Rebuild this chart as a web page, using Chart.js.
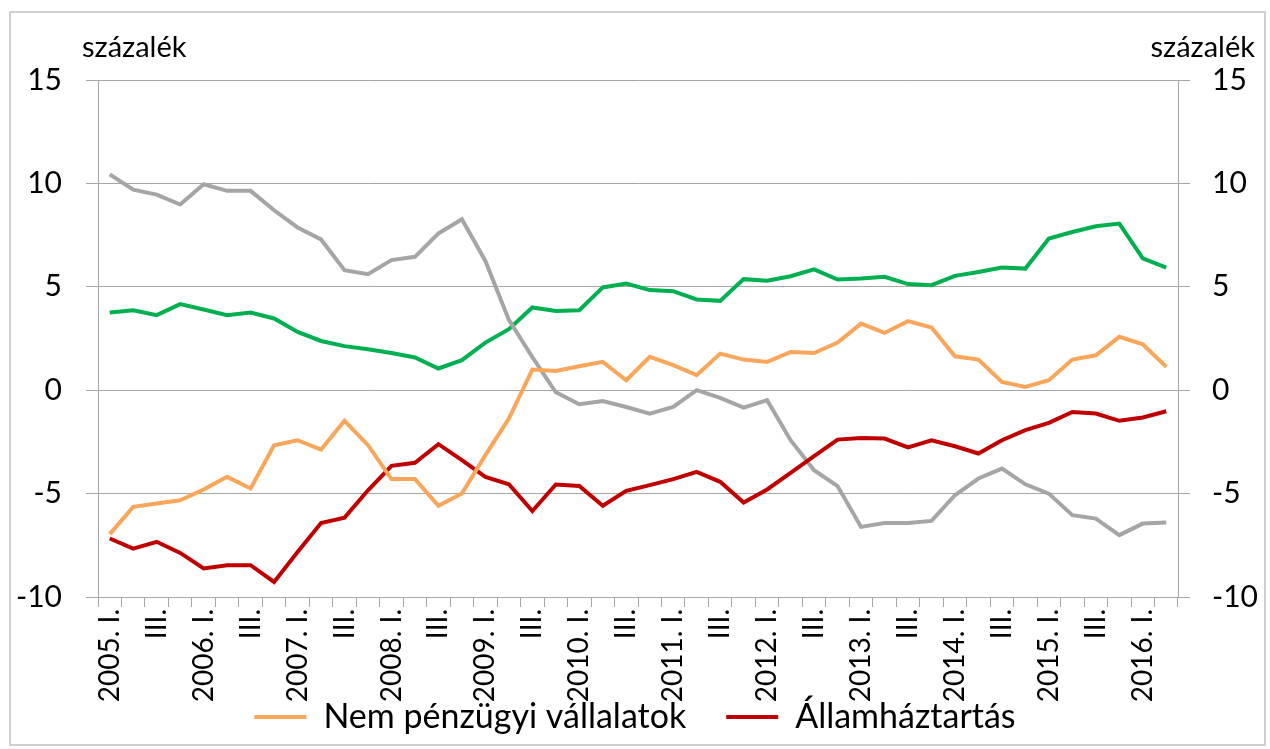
<!DOCTYPE html>
<html>
<head>
<meta charset="utf-8">
<script src="https://cdn.jsdelivr.net/npm/chart.js@4/dist/chart.umd.min.js"></script>
<style>
  html, body { margin: 0; padding: 0; background: #fff; }
  #wrap { position: relative; width: 1270px; height: 749px; }
  #frame {
    position: absolute; left: 9px; top: 11px;
    width: 1253px; height: 731px;
    border: 2px solid #cfcfcf;
    pointer-events: none;
  }
</style>
</head>
<body>
<div id="wrap">
  <canvas id="grafico" width="1270" height="749"></canvas>
  <div id="frame"></div>
</div>
<script>
// negyedéves adatok, 2005. I. - 2016. II.
const evek = [2005, 2006, 2007, 2008, 2009, 2010, 2011, 2012, 2013, 2014, 2015, 2016];
const negyedek = ["I.", "II.", "III.", "IV."];

const cimkek = [];
evek.forEach(ev => {
    negyedek.forEach((n, i) => {
        if (ev === 2016 && i > 1) return;
        cimkek.push(i === 0 ? ev + ". " + n : n);
    });
});

const nemPenzugyi = [
    -6.96, -5.64, -5.48, -5.32, -4.80, -4.19, -4.75, -2.66, -2.42, -2.87,
    -1.48, -2.66, -4.30, -4.30, -5.59, -5.00, -3.14, -1.37, 1.00, 0.93,
    1.16, 1.37, 0.48, 1.61, 1.21, 0.73, 1.77, 1.48, 1.37, 1.85,
    1.80, 2.30, 3.22, 2.77, 3.34, 3.03, 1.64, 1.48, 0.40, 0.16,
    0.48, 1.48, 1.69, 2.58, 2.22, 1.13
];

const allamhaztartas = [
    -7.17, -7.66, -7.33, -7.87, -8.62, -8.46, -8.46, -9.27, -7.82, -6.42,
    -6.16, -4.84, -3.66, -3.51, -2.61, -3.38, -4.19, -4.55, -5.84, -4.56,
    -4.63, -5.59, -4.87, -4.59, -4.30, -3.95, -4.43, -5.43, -4.80, -4.00,
    -3.19, -2.39, -2.31, -2.34, -2.77, -2.42, -2.71, -3.06, -2.42, -1.93,
    -1.58, -1.05, -1.13, -1.48, -1.32, -1.02
];

const szurke = [
    10.44, 9.70, 9.46, 8.98, 9.96, 9.64, 9.64, 8.70, 7.87, 7.29,
    5.80, 5.61, 6.29, 6.45, 7.58, 8.27, 6.25, 3.40, 1.60, -0.10,
    -0.68, -0.52, -0.81, -1.13, -0.81, 0.00, -0.37, -0.84, -0.48, -2.42,
    -3.87, -4.64, -6.61, -6.42, -6.42, -6.32, -5.08, -4.27, -3.79, -4.55,
    -5.00, -6.04, -6.21, -7.01, -6.45, -6.40
];

const zold = [
    3.76, 3.87, 3.63, 4.16, 3.90, 3.63, 3.76, 3.47, 2.82, 2.38,
    2.13, 1.98, 1.80, 1.58, 1.05, 1.45, 2.30, 2.95, 4.00, 3.83,
    3.87, 4.97, 5.16, 4.84, 4.79, 4.39, 4.32, 5.37, 5.29, 5.51,
    5.84, 5.35, 5.40, 5.48, 5.13, 5.08, 5.53, 5.72, 5.93, 5.88,
    7.33, 7.65, 7.93, 8.06, 6.37, 5.93
];

const yMin = -10;
const yMax = 15;
const yLepes = 5;

const betu = "Lato";
const racsSzin = "#a6a6a6";

function vonal(label, data, szin) {

    return {
        label,
        data,
        borderColor: szin,
        backgroundColor: szin,
        borderWidth: 4,
        pointRadius: 0,
        tension: 0,
        fill: false
    };
}

const szazalekFelirat = {

    id: "szazalekFelirat",

    // a vízszintes tengely feliratai lelógnak a tengely dobozáról,
    // ezért a vágási területét lejjebb visszük
    afterLayout(chart) {

        const x = chart.scales.x;

        x.bottom = x.top + 115;
    },

    afterDraw(chart) {

        const ctx = chart.ctx;
        const area = chart.chartArea;

        ctx.save();
        ctx.fillStyle = "#000";
        ctx.font = "29px " + betu;
        ctx.textBaseline = "alphabetic";

        ctx.textAlign = "left";
        ctx.fillText("százalék", area.left - 16, area.top - 23);

        ctx.textAlign = "right";
        ctx.fillText("százalék", area.right + 77, area.top - 23);

        ctx.restore();
    }
};

new Chart(
    document.getElementById("grafico"),
    {
        type: "line",

        data: {

            labels: cimkek,

            datasets: [
                vonal("Nem pénzügyi vállalatok", nemPenzugyi, "#f9a65a"),
                vonal("Államháztartás", allamhaztartas, "#c00000"),
                vonal("", szurke, "#a5a5a5"),
                vonal("", zold, "#00b050")
            ]
        },

        options: {

            responsive: false,

            animation: false,

            layout: {
                padding: { top: 80, left: 0, right: 0, bottom: 5 }
            },

            plugins: {

                legend: {

                    position: "bottom",

                    labels: {

                        color: "#000",

                        font: { family: betu, size: 34 },

                        boxWidth: 52,

                        boxHeight: 4,

                        padding: 40,

                        filter: item => item.text !== "",

                        generateLabels: chart =>
                            Chart.defaults.plugins.legend.labels
                                .generateLabels(chart)
                                .map(item => ({
                                    ...item,
                                    fillStyle: item.strokeStyle,
                                    lineWidth: 0
                                }))
                    }
                },

                tooltip: { enabled: false }
            },

            scales: {

                x: {

                    offset: true,

                    grid: {
                        offset: true,
                        drawOnChartArea: false,
                        drawTicks: true,
                        tickLength: 10,
                        color: racsSzin
                    },

                    border: { color: racsSzin },

                    ticks: {
                        autoSkip: false,
                        maxRotation: 90,
                        minRotation: 90,
                        padding: 2,
                        color: "#000",
                        font: { family: betu, size: 28 },
                        callback: (v, i) => i % 2 === 0 ? cimkek[i] : ""
                    },

                    afterFit: scale => { scale.height = 63; }
                },

                y: {

                    position: "left",

                    min: yMin,

                    max: yMax,

                    grid: {
                        color: racsSzin,
                        tickLength: 12
                    },

                    border: { color: racsSzin },

                    ticks: {
                        stepSize: yLepes,
                        padding: 24,
                        color: "#000",
                        font: { family: betu, size: 30 }
                    },

                    afterFit: scale => { scale.width = 98; }
                },

                y1: {

                    position: "right",

                    min: yMin,

                    max: yMax,

                    grid: {
                        drawOnChartArea: false,
                        color: racsSzin,
                        tickLength: 12
                    },

                    border: { color: racsSzin },

                    ticks: {
                        stepSize: yLepes,
                        padding: 22,
                        color: "#000",
                        font: { family: betu, size: 30 }
                    },

                    afterFit: scale => { scale.width = 92; }
                }
            }
        },

        plugins: [szazalekFelirat]
    }
);
</script>
</body>
</html>
